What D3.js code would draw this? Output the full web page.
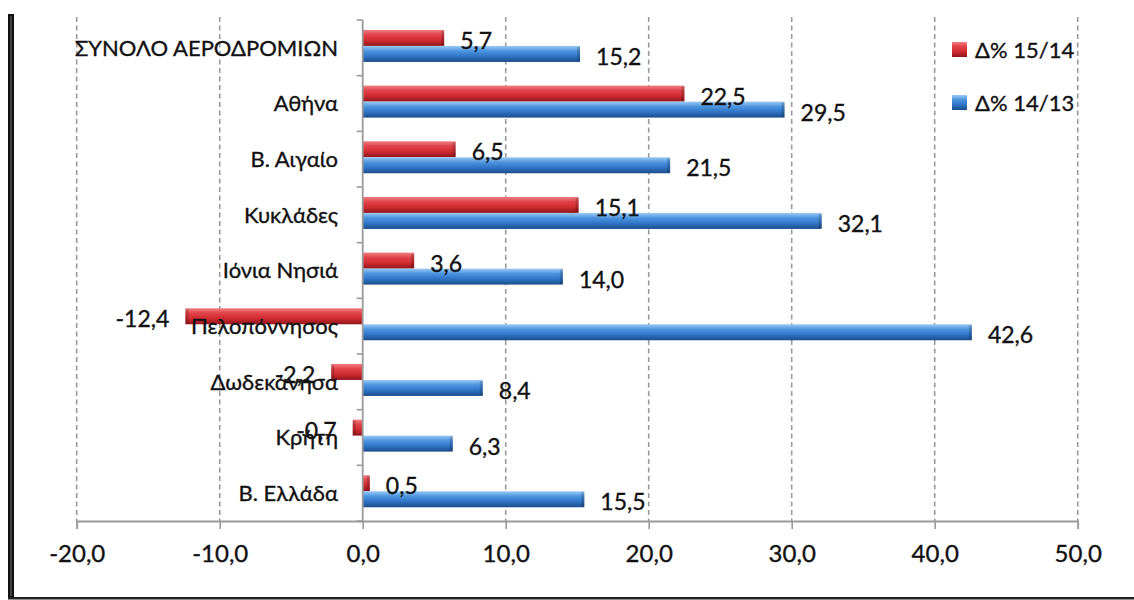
<!DOCTYPE html>
<html>
<head>
<meta charset="utf-8">
<script src="https://cdn.jsdelivr.net/npm/d3@7"></script>
<style>
  html, body { margin: 0; padding: 0; background: #fff; }
  svg { display: block; font-family: "Lato", "Open Sans", sans-serif; }
  text { stroke: #111; stroke-width: 0.35px; }
</style>
</head>
<body>
<svg id="chart" width="1134" height="600"></svg>
<script>
// Airport traffic change by region (percent)
const categories = [
  "ΣΥΝΟΛΟ ΑΕΡΟΔΡΟΜΙΩΝ", "Αθήνα", "Β. Αιγαίο", "Κυκλάδες", "Ιόνια Νησιά",
  "Πελοπόννησος", "Δωδεκάνησα", "Κρήτη", "Β. Ελλάδα"
];
const seriesNames = ["Δ% 15/14", "Δ% 14/13"];
const change1514 = [5.7, 22.5, 6.5, 15.1, 3.6, -12.4, -2.2, -0.7, 0.5];
const change1413 = [15.2, 29.5, 21.5, 32.1, 14.0, 42.6, 8.4, 6.3, 15.5];
const xTicks = [-20, -10, 0, 10, 20, 30, 40, 50];

const fmt = v => v.toFixed(1).replace(".", ",");

const svg = d3.select("#chart");
const W = 1134, H = 600;

const rows = categories.map((c, i) => ({
  cat: c,
  values: [
    { key: seriesNames[0], v: change1514[i] },
    { key: seriesNames[1], v: change1413[i] }
  ]
}));

const x = d3.scaleLinear().domain([-20, 50]).range([76.7, 1077.7]);
const y = d3.scaleBand().domain(categories).range([20, 521]).padding(0);
const ys = d3.scaleBand().domain(seriesNames).range([0, y.bandwidth()])
  .paddingInner(0).paddingOuter(0.74).align(0.42);

// gradients for the glossy bars
const defs = svg.append("defs");
const grads = {
  [seriesNames[0]]: ["#f07f82", "#e2434a", "#cf2a31", "#8f161b"],
  [seriesNames[1]]: ["#9ccaf6", "#4f96e0", "#2f74c6", "#1b4c8a"]
};
Object.entries(grads).forEach(([k, c], i) => {
  const g = defs.append("linearGradient").attr("id", "g" + i)
    .attr("x1", 0).attr("y1", 0).attr("x2", 0).attr("y2", 1);
  g.append("stop").attr("offset", "0%").attr("stop-color", c[0]);
  g.append("stop").attr("offset", "30%").attr("stop-color", c[1]);
  g.append("stop").attr("offset", "65%").attr("stop-color", c[2]);
  g.append("stop").attr("offset", "100%").attr("stop-color", c[3]);
});
const gradId = k => "url(#g" + seriesNames.indexOf(k) + ")";

// frame
svg.append("rect").attr("x", 8).attr("y", 14).attr("width", 6).attr("height", 585).attr("fill", "#111");
svg.append("rect").attr("x", 10.5).attr("y", 16).attr("width", 1).attr("height", 580).attr("fill", "#777");
svg.append("rect").attr("x", 8).attr("y", 597).attr("width", W - 8).attr("height", 2.5).attr("fill", "#222");

// dashed vertical gridlines
svg.append("g").selectAll("line")
  .data(xTicks.filter(t => t !== 0))
  .join("line")
  .attr("x1", d => x(d)).attr("x2", d => x(d))
  .attr("y1", 17).attr("y2", 521)
  .attr("stroke", "#9a9a9a").attr("stroke-width", 1.6)
  .attr("stroke-dasharray", "5,3.5");

// x axis
const xAxis = d3.axisBottom(x).tickValues(xTicks).tickFormat(fmt).tickSize(8).tickPadding(13);
const gx = svg.append("g").attr("transform", "translate(0,521)").call(xAxis);
gx.select(".domain").attr("stroke", "#9a9a9a").attr("stroke-width", 1.8);
gx.selectAll(".tick line").attr("stroke", "#9a9a9a").attr("stroke-width", 1.6);
gx.selectAll(".tick text").attr("font-size", 24).attr("fill", "#111")
  .attr("font-family", "Lato, sans-serif").attr("dy", "0.85em");

// bars
const groups = svg.append("g").selectAll("g")
  .data(rows).join("g")
  .attr("transform", d => `translate(0,${y(d.cat)})`);

groups.selectAll("rect.bar")
  .data(d => d.values).join("rect")
  .attr("class", "bar")
  .attr("x", d => x(Math.min(0, d.v)))
  .attr("y", d => ys(d.key))
  .attr("width", d => Math.abs(x(d.v) - x(0)))
  .attr("height", ys.bandwidth())
  .attr("fill", d => gradId(d.key));

// darker bevel at the bar ends
groups.selectAll("rect.cap")
  .data(d => d.values).join("rect")
  .attr("class", "cap")
  .attr("x", d => d.v >= 0 ? x(d.v) - Math.min(3, Math.abs(x(d.v) - x(0))) : x(d.v))
  .attr("y", d => ys(d.key) + 1)
  .attr("width", d => Math.min(3, Math.abs(x(d.v) - x(0))))
  .attr("height", ys.bandwidth() - 2)
  .attr("fill", "#000").attr("opacity", 0.18);

// y axis (category axis at zero)
const gy = svg.append("g");
gy.append("line").attr("x1", x(0)).attr("x2", x(0)).attr("y1", 20).attr("y2", 521)
  .attr("stroke", "#9a9a9a").attr("stroke-width", 1.8);
gy.selectAll("line.tk")
  .data(categories.map(c => y(c)).concat([521]))
  .join("line").attr("class", "tk")
  .attr("x1", x(0) - 6).attr("x2", x(0))
  .attr("y1", d => d).attr("y2", d => d)
  .attr("stroke", "#9a9a9a").attr("stroke-width", 1.6);

// category labels
svg.append("g").selectAll("text")
  .data(categories).join("text")
  .attr("x", 338)
  .attr("y", d => y(d) + y.bandwidth() / 2)
  .attr("dy", "0.35em")
  .attr("text-anchor", "end")
  .attr("font-size", 22)
  .attr("fill", "#111")
  .text(d => d);

// value labels
groups.selectAll("text.val")
  .data(d => d.values).join("text")
  .attr("class", "val")
  .attr("x", d => d.v >= 0 ? x(d.v) + 16 : x(d.v) - 16)
  .attr("y", d => ys(d.key) + ys.bandwidth() / 2 + 3)
  .attr("dy", "0.35em")
  .attr("text-anchor", d => d.v >= 0 ? "start" : "end")
  .attr("font-size", 23)
  .attr("fill", "#111")
  .text(d => fmt(d.v));

// legend
const legend = svg.append("g").selectAll("g")
  .data(seriesNames).join("g")
  .attr("transform", (d, i) => `translate(952,${42 + i * 53})`);
legend.append("rect").attr("width", 15).attr("height", 15)
  .attr("fill", d => gradId(d));
legend.append("text").attr("x", 23).attr("y", 8).attr("dy", "0.35em")
  .attr("font-size", 22).attr("fill", "#111").text(d => d);
</script>
</body>
</html>
